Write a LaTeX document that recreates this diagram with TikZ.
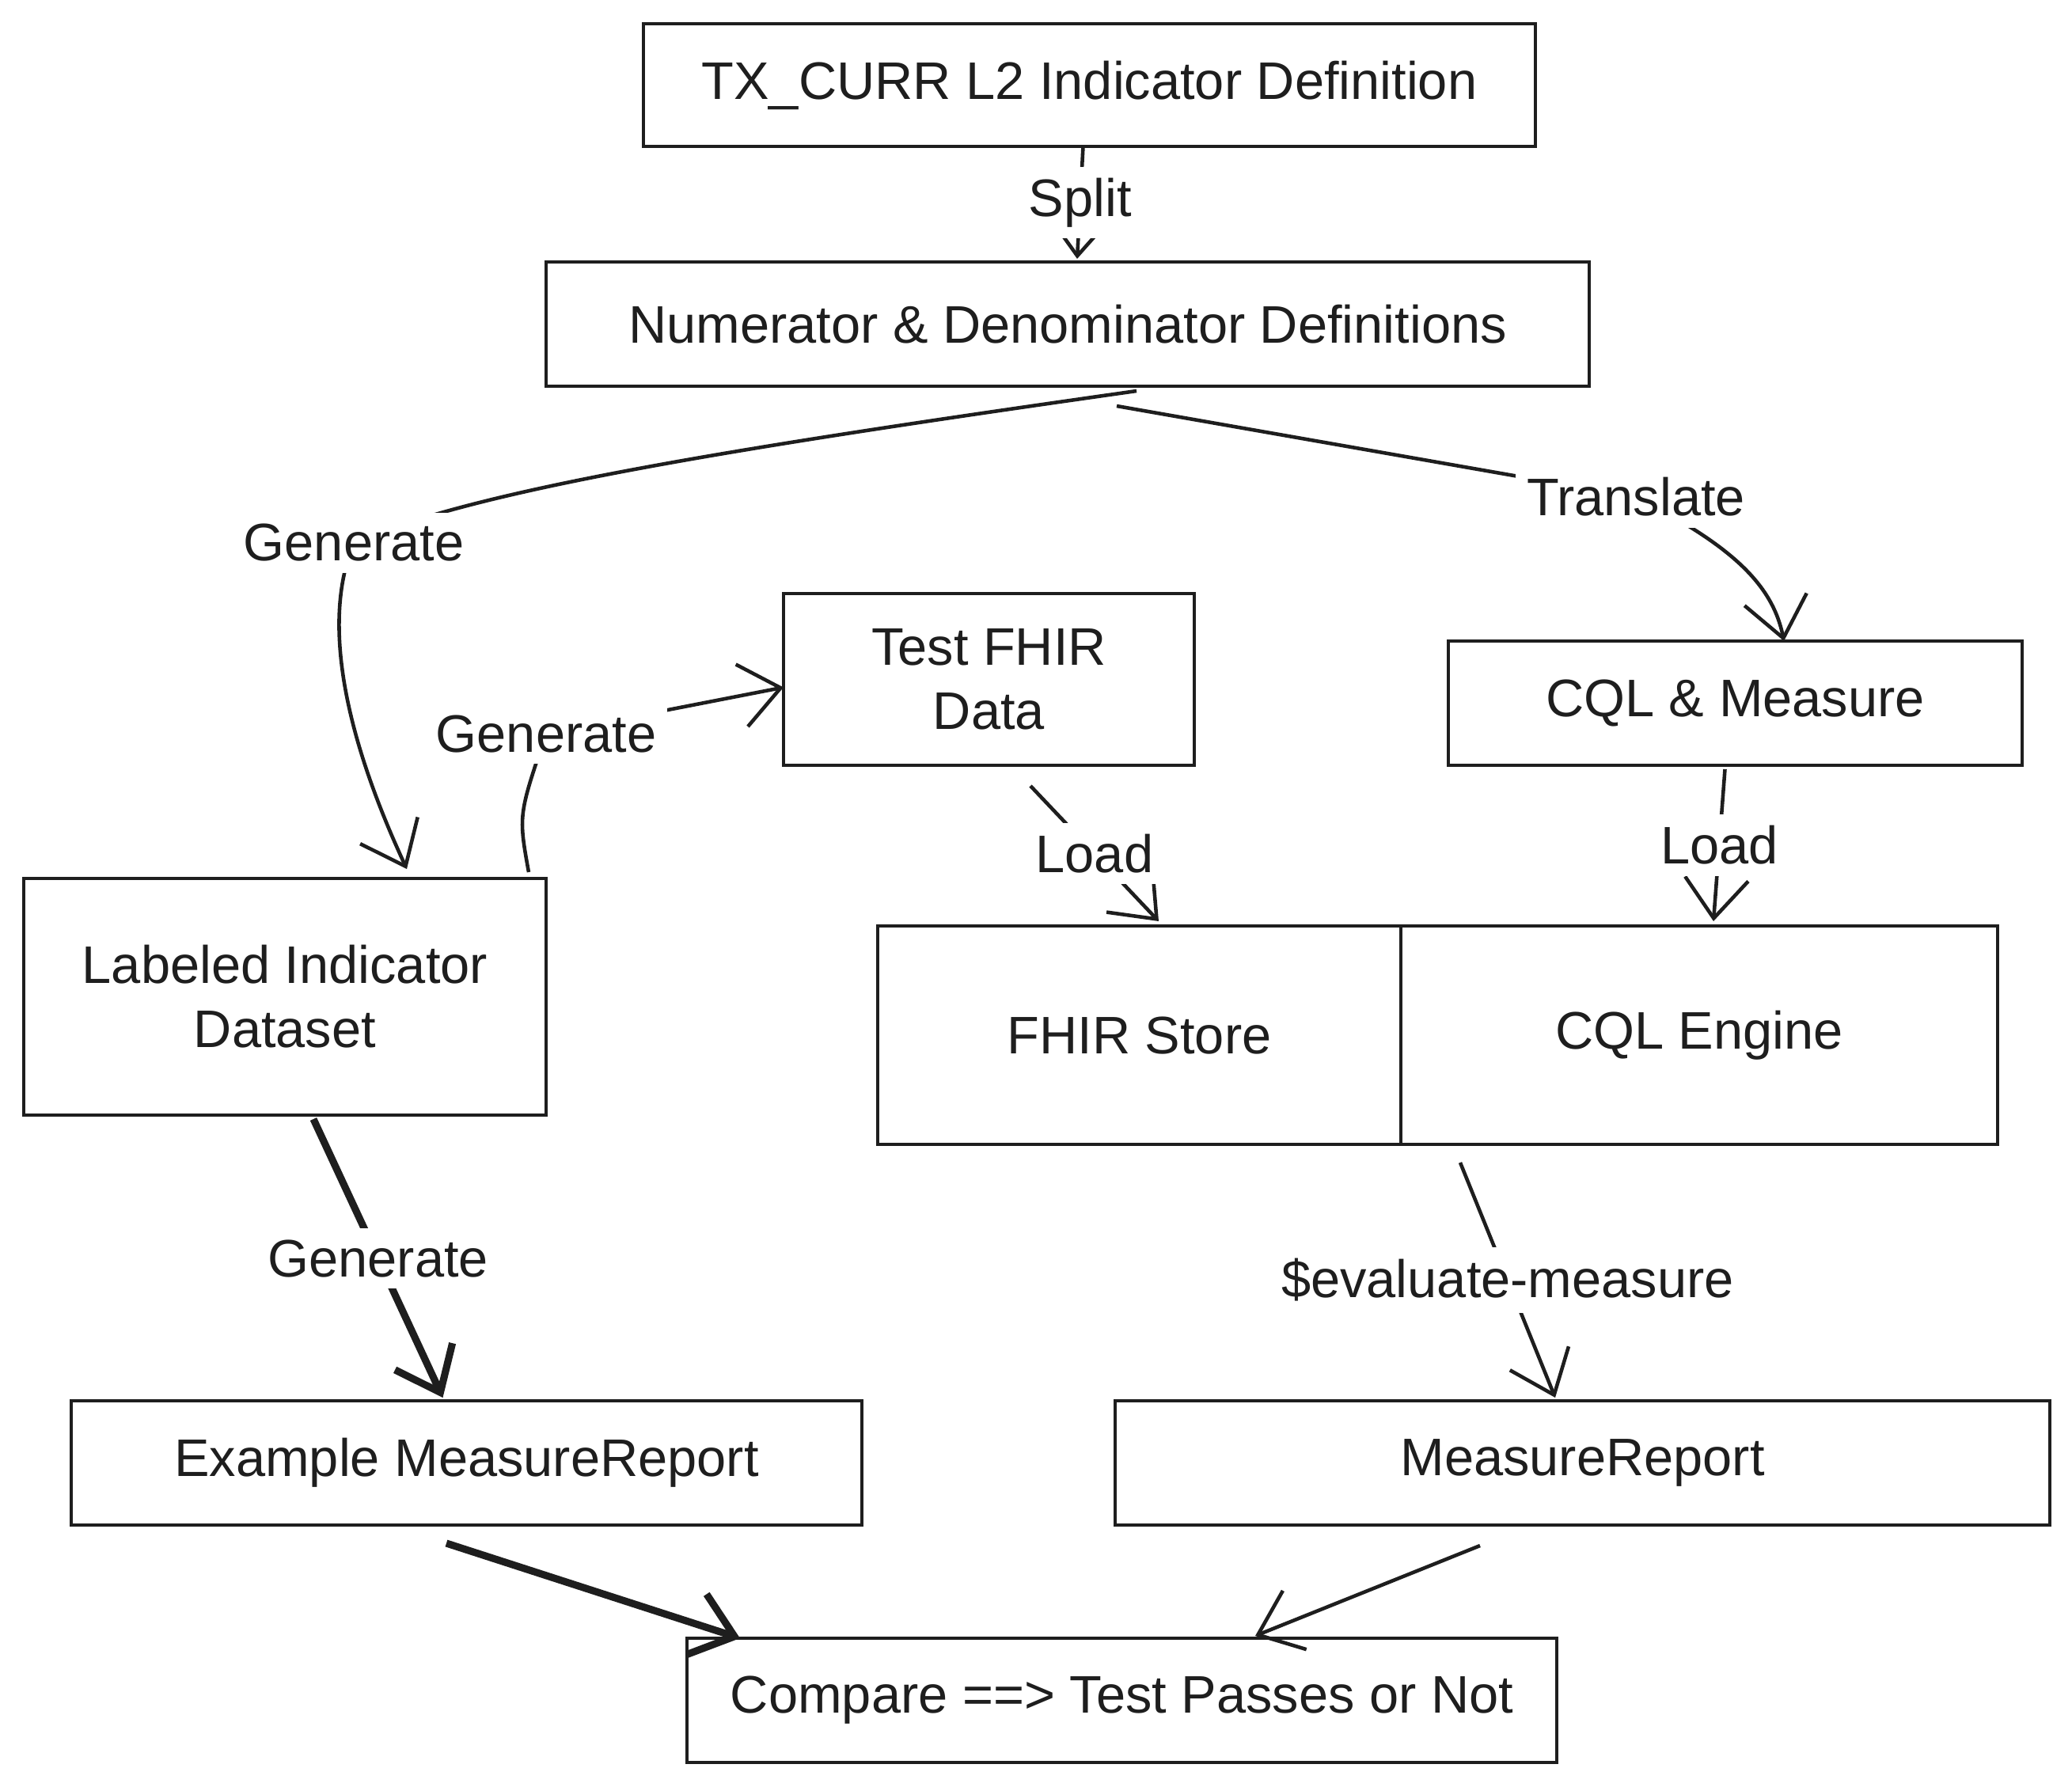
\documentclass[tikz,border=0pt]{standalone}
\usepackage{fontspec}
\setmainfont{Liberation Sans}
\usepackage{tikz}
\usetikzlibrary{arrows.meta, positioning}
\definecolor{inkblack}{HTML}{1E1E1E}

\begin{document}
\begin{tikzpicture}[
        font=\fontsize{19}{23}\selectfont,
        every node/.style={align=center, outer sep=0pt, text=inkblack},
        box/.style={rectangle, draw=inkblack, line width=1.4pt, fill=white,
                    inner sep=0pt},
        lbl/.style={fill=white, inner sep=4pt},
        link/.style={draw=inkblack, line width=1.3pt,
                     -{Straight Barb[length=5mm, width=8mm, line width=1.3pt]}},
        heavy/.style={link, line width=2.6pt,
                      -{Straight Barb[length=5mm, width=8mm, line width=2.6pt]}}
    ]
        \useasboundingbox (0,0) rectangle (26.18,-22.57);

        % --- Definiciones ---
        \node[box, minimum width=11.27cm, minimum height=1.55cm] (txcurr) at (13.765,-1.075)
            {TX\_CURR L2 Indicator Definition};
        \node[box, minimum width=13.18cm, minimum height=1.57cm] (numden) at (13.49,-4.095)
            {Numerator \& Denominator Definitions};

        % --- Fila media ---
        \node[box, minimum width=5.19cm, minimum height=2.17cm] (testdata) at (12.495,-8.585)
            {Test FHIR\\Data};
        \node[box, minimum width=7.25cm, minimum height=1.57cm] (cqlmeas) at (21.925,-8.885)
            {CQL \& Measure};
        \node[box, minimum width=6.60cm, minimum height=2.99cm] (labeled) at (3.6,-12.595)
            {Labeled Indicator\\Dataset};
        \node[box, minimum width=6.61cm, minimum height=2.76cm] (fhirstore) at (14.395,-13.08)
            {FHIR Store};
        \node[box, minimum width=7.54cm, minimum height=2.76cm] (cqlengine) at (21.47,-13.08)
            {CQL Engine};

        % --- Reportes ---
        \node[box, minimum width=9.99cm, minimum height=1.57cm] (examplemr) at (5.895,-18.485)
            {Example MeasureReport};
        \node[box, minimum width=11.81cm, minimum height=1.57cm] (measrep) at (19.995,-18.485)
            {MeasureReport};
        \node[box, minimum width=10.99cm, minimum height=1.57cm] (compare) at (14.175,-21.485)
            {Compare ==> Test Passes or Not};

        % --- Conectores ---
        \draw[link] ([xshift=-0.8mm]txcurr.south) -- node[lbl] {Split}
            ([xshift=1.2mm, yshift=0.4mm]numden.north);
        \draw[link] ([xshift=8.7mm, yshift=-0.6mm]numden.south)
            .. controls (9,-5.7) and (6,-6.2) .. (4.47,-6.86) node[lbl] {Generate}
            .. controls (4.0,-8.0) and (4.5,-9.6) .. ([xshift=1.54cm, yshift=1.2mm]labeled.north);
        \draw[link] ([xshift=6.2mm, yshift=-2.5mm]numden.south)
            -- (20.67,-6.28) node[lbl] {Translate}
            .. controls (21.9,-6.9) and (22.4,-7.4) .. ([xshift=6.15mm]cqlmeas.north);
        \draw[link] ([xshift=3.08cm, yshift=0.8mm]labeled.north)
            .. controls (6.55,-10.3) .. (6.90,-9.27) node[lbl] {Generate}
            -- ([yshift=-1mm]testdata.west);
        \draw[link] ([xshift=5.25mm, yshift=-2.6mm]testdata.south) -- node[lbl] {Load}
            ([xshift=2.45mm, yshift=0.6mm]fhirstore.north);
        \draw[link] ([xshift=-1.3mm, yshift=-0.5mm]cqlmeas.south) -- node[lbl] {Load}
            ([xshift=1.8mm, yshift=0.6mm]cqlengine.north);
        \draw[heavy] ([xshift=3.6mm, yshift=-0.5mm]labeled.south) -- node[lbl] {Generate}
            ([xshift=-3mm, yshift=0.4mm]examplemr.north);
        \draw[link] ([xshift=-3.02cm, yshift=-2.3mm]cqlengine.south) -- node[lbl] {\$evaluate-measure}
            ([xshift=-3.45mm, yshift=0.4mm]measrep.north);
        \draw[heavy] ([xshift=-2.55mm, yshift=-2.3mm]examplemr.south)
            -- ([xshift=-4.825cm]compare.north);
        \draw[link] ([xshift=-1.295cm, yshift=-2.6mm]measrep.south)
            -- ([xshift=1.685cm, yshift=0.3mm]compare.north);
    \end{tikzpicture}
\end{document}
